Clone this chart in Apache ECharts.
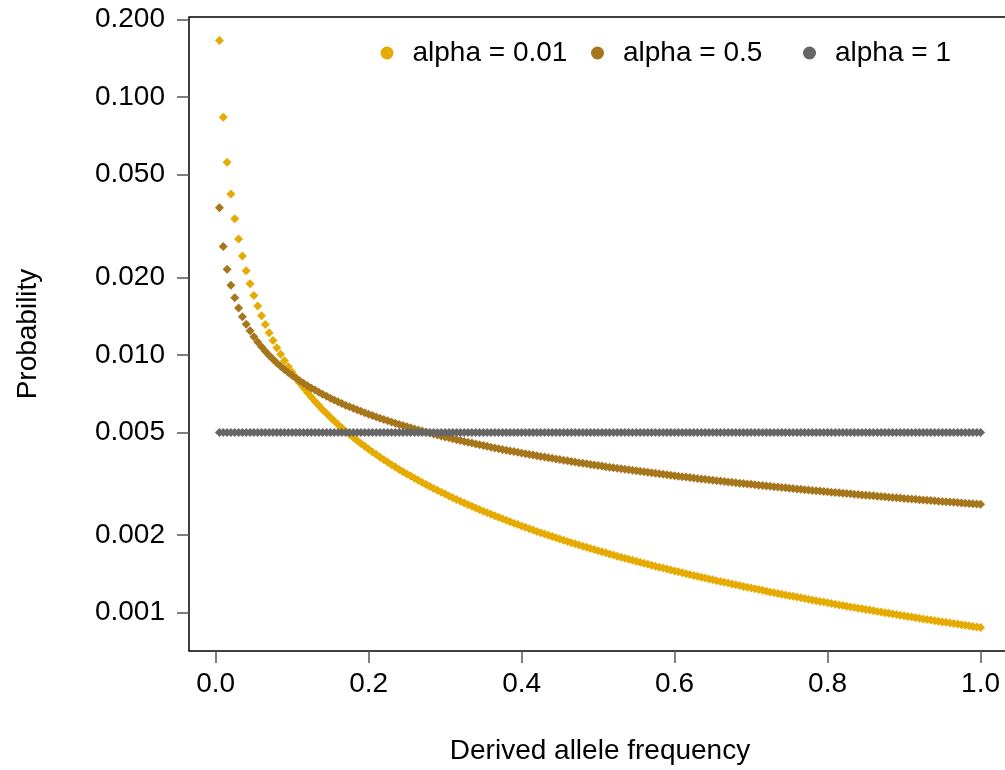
<!DOCTYPE html>
<html>
<head>
<meta charset="utf-8">
<script src="https://cdn.jsdelivr.net/npm/echarts@6/dist/echarts.min.js"></script>
<style>
html,body{margin:0;padding:0;background:#fff;}
#chart{width:1005px;height:770px;}
</style>
</head>
<body>
<div id="chart"></div>
<script>
const freq = [
0.005,0.01,0.015,0.02,0.025,0.03,0.035,0.04,0.045,0.05,0.055,0.06,0.065,0.07,0.075,0.08,0.085,0.09,0.095,0.1,
0.105,0.11,0.115,0.12,0.125,0.13,0.135,0.14,0.145,0.15,0.155,0.16,0.165,0.17,0.175,0.18,0.185,0.19,0.195,0.2,
0.205,0.21,0.215,0.22,0.225,0.23,0.235,0.24,0.245,0.25,0.255,0.26,0.265,0.27,0.275,0.28,0.285,0.29,0.295,0.3,
0.305,0.31,0.315,0.32,0.325,0.33,0.335,0.34,0.345,0.35,0.355,0.36,0.365,0.37,0.375,0.38,0.385,0.39,0.395,0.4,
0.405,0.41,0.415,0.42,0.425,0.43,0.435,0.44,0.445,0.45,0.455,0.46,0.465,0.47,0.475,0.48,0.485,0.49,0.495,0.5,
0.505,0.51,0.515,0.52,0.525,0.53,0.535,0.54,0.545,0.55,0.555,0.56,0.565,0.57,0.575,0.58,0.585,0.59,0.595,0.6,
0.605,0.61,0.615,0.62,0.625,0.63,0.635,0.64,0.645,0.65,0.655,0.66,0.665,0.67,0.675,0.68,0.685,0.69,0.695,0.7,
0.705,0.71,0.715,0.72,0.725,0.73,0.735,0.74,0.745,0.75,0.755,0.76,0.765,0.77,0.775,0.78,0.785,0.79,0.795,0.8,
0.805,0.81,0.815,0.82,0.825,0.83,0.835,0.84,0.845,0.85,0.855,0.86,0.865,0.87,0.875,0.88,0.885,0.89,0.895,0.9,
0.905,0.91,0.915,0.92,0.925,0.93,0.935,0.94,0.945,0.95,0.955,0.96,0.965,0.97,0.975,0.98,0.985,0.99,0.995,1
];
const alpha001 = [
0.1661,0.08363,0.05598,0.04211,0.03376,0.02819,0.02420,0.02120,0.01887,0.01700,
0.01547,0.01419,0.01311,0.01218,0.01138,0.01067,0.01005,0.009499,0.009004,0.008558,
0.008154,0.007787,0.007452,0.007145,0.006862,0.006600,0.006358,0.006133,0.005924,0.005728,
0.005545,0.005374,0.005213,0.005061,0.004918,0.004782,0.004654,0.004533,0.004418,0.004309,
0.004205,0.004106,0.004011,0.003921,0.003834,0.003752,0.003673,0.003597,0.003524,0.003455,
0.003388,0.003323,0.003261,0.003201,0.003144,0.003088,0.003034,0.002983,0.002932,0.002884,
0.002837,0.002792,0.002748,0.002706,0.002664,0.002624,0.002586,0.002548,0.002511,0.002476,
0.002441,0.002408,0.002375,0.002343,0.002312,0.002282,0.002253,0.002224,0.002197,0.002169,
0.002143,0.002117,0.002092,0.002067,0.002043,0.002019,0.001996,0.001974,0.001952,0.001931,
0.001910,0.001889,0.001869,0.001849,0.001830,0.001811,0.001793,0.001775,0.001757,0.001739,
0.001722,0.001706,0.001689,0.001673,0.001657,0.001642,0.001627,0.001612,0.001597,0.001583,
0.001569,0.001555,0.001541,0.001528,0.001515,0.001502,0.001489,0.001476,0.001464,0.001452,
0.001440,0.001429,0.001417,0.001406,0.001395,0.001384,0.001373,0.001362,0.001352,0.001342,
0.001331,0.001321,0.001312,0.001302,0.001292,0.001283,0.001274,0.001264,0.001256,0.001247,
0.001238,0.001229,0.001221,0.001212,0.001204,0.001196,0.001188,0.001180,0.001172,0.001164,
0.001157,0.001149,0.001142,0.001134,0.001127,0.001120,0.001113,0.001106,0.001099,0.001092,
0.001086,0.001079,0.001072,0.001066,0.001059,0.001053,0.001047,0.001041,0.001035,0.001029,
0.001023,0.001017,0.001011,0.001005,0.000999,0.000994,0.000988,0.000983,0.000977,0.000972,
0.000967,0.000961,0.000956,0.000951,0.000946,0.000941,0.000936,0.000931,0.000926,0.000921,
0.000917,0.000912,0.000907,0.000903,0.000898,0.000893,0.000889,0.000884,0.000880,0.000876
];
const alpha05 = [
0.03723,0.02633,0.02150,0.01862,0.01665,0.01520,0.01407,0.01316,0.01241,0.01177,
0.01123,0.01075,0.01033,0.009951,0.009613,0.009308,0.009030,0.008776,0.008541,0.008325,
0.008125,0.007938,0.007763,0.007600,0.007446,0.007302,0.007165,0.007036,0.006914,0.006797,
0.006687,0.006582,0.006481,0.006385,0.006293,0.006205,0.006121,0.006040,0.005962,0.005887,
0.005815,0.005745,0.005678,0.005613,0.005550,0.005489,0.005431,0.005374,0.005319,0.005265,
0.005213,0.005163,0.005114,0.005067,0.005020,0.004975,0.004931,0.004889,0.004847,0.004807,
0.004767,0.004728,0.004691,0.004654,0.004618,0.004583,0.004549,0.004515,0.004482,0.004450,
0.004419,0.004388,0.004358,0.004328,0.004299,0.004271,0.004243,0.004216,0.004189,0.004163,
0.004137,0.004112,0.004087,0.004062,0.004038,0.004015,0.003992,0.003969,0.003947,0.003925,
0.003903,0.003882,0.003861,0.003840,0.003820,0.003800,0.003780,0.003761,0.003742,0.003723,
0.003705,0.003686,0.003669,0.003651,0.003633,0.003616,0.003599,0.003583,0.003566,0.003550,
0.003534,0.003518,0.003502,0.003487,0.003472,0.003457,0.003442,0.003427,0.003413,0.003399,
0.003385,0.003371,0.003357,0.003343,0.003330,0.003317,0.003304,0.003291,0.003278,0.003265,
0.003253,0.003241,0.003228,0.003216,0.003204,0.003193,0.003181,0.003169,0.003158,0.003147,
0.003135,0.003124,0.003113,0.003103,0.003092,0.003081,0.003071,0.003060,0.003050,0.003040,
0.003030,0.003020,0.003010,0.003000,0.002990,0.002981,0.002971,0.002962,0.002953,0.002943,
0.002934,0.002925,0.002916,0.002907,0.002898,0.002890,0.002881,0.002872,0.002864,0.002856,
0.002847,0.002839,0.002831,0.002823,0.002814,0.002806,0.002799,0.002791,0.002783,0.002775,
0.002767,0.002760,0.002752,0.002745,0.002737,0.002730,0.002723,0.002715,0.002708,0.002701,
0.002694,0.002687,0.002680,0.002673,0.002666,0.002659,0.002653,0.002646,0.002639,0.002633
];
const alpha1 = [
0.005,0.005,0.005,0.005,0.005,0.005,0.005,0.005,0.005,0.005,0.005,0.005,0.005,0.005,0.005,0.005,0.005,0.005,0.005,0.005,
0.005,0.005,0.005,0.005,0.005,0.005,0.005,0.005,0.005,0.005,0.005,0.005,0.005,0.005,0.005,0.005,0.005,0.005,0.005,0.005,
0.005,0.005,0.005,0.005,0.005,0.005,0.005,0.005,0.005,0.005,0.005,0.005,0.005,0.005,0.005,0.005,0.005,0.005,0.005,0.005,
0.005,0.005,0.005,0.005,0.005,0.005,0.005,0.005,0.005,0.005,0.005,0.005,0.005,0.005,0.005,0.005,0.005,0.005,0.005,0.005,
0.005,0.005,0.005,0.005,0.005,0.005,0.005,0.005,0.005,0.005,0.005,0.005,0.005,0.005,0.005,0.005,0.005,0.005,0.005,0.005,
0.005,0.005,0.005,0.005,0.005,0.005,0.005,0.005,0.005,0.005,0.005,0.005,0.005,0.005,0.005,0.005,0.005,0.005,0.005,0.005,
0.005,0.005,0.005,0.005,0.005,0.005,0.005,0.005,0.005,0.005,0.005,0.005,0.005,0.005,0.005,0.005,0.005,0.005,0.005,0.005,
0.005,0.005,0.005,0.005,0.005,0.005,0.005,0.005,0.005,0.005,0.005,0.005,0.005,0.005,0.005,0.005,0.005,0.005,0.005,0.005,
0.005,0.005,0.005,0.005,0.005,0.005,0.005,0.005,0.005,0.005,0.005,0.005,0.005,0.005,0.005,0.005,0.005,0.005,0.005,0.005,
0.005,0.005,0.005,0.005,0.005,0.005,0.005,0.005,0.005,0.005,0.005,0.005,0.005,0.005,0.005,0.005,0.005,0.005,0.005,0.005
];
const seriesNames = ['alpha = 0.01', 'alpha = 0.5', 'alpha = 1'];
const seriesValues = [alpha001, alpha05, alpha1];
const colors = ['#E6AB02', '#A6761D', '#666666'];
const xTicks = [0, 0.2, 0.4, 0.6, 0.8, 1];
const yTicks = [0.001, 0.002, 0.005, 0.01, 0.02, 0.05, 0.1, 0.2];
const xLimits = [-0.0348, 1.0398];
const yLimits = [0.00071, 0.2047];

const FONT = '"Liberation Sans", Arial, Helvetica, sans-serif';
const chart = echarts.init(document.getElementById('chart'), null, {renderer: 'canvas'});

const legendLefts = [380.5, 591, 803];
const option = {
  animation: false,
  backgroundColor: '#ffffff',
  textStyle: {fontFamily: FONT},
  color: colors,
  grid: {
    left: 189, top: 17, width: 822, height: 634,
    show: true, borderColor: '#000', borderWidth: 1.5,
    backgroundColor: 'transparent',
    containLabel: false, outerBoundsMode: 'none'
  },
  legend: seriesNames.map((name, k) => ({
    left: legendLefts[k], top: 39, padding: 0,
    icon: 'circle', itemWidth: 13, itemHeight: 13,
    textStyle: {fontSize: 28, color: '#000', fontFamily: FONT, padding: [0, 0, 0, 14]},
    data: [name]
  })),
  xAxis: {
    type: 'value', min: xLimits[0], max: xLimits[1],
    axisLine: {show: false, onZero: false},
    splitLine: {show: false},
    axisTick: {show: true, customValues: xTicks, length: 12, lineStyle: {color: '#555', width: 1.5}},
    axisLabel: {customValues: xTicks, formatter: v => v.toFixed(1), fontSize: 28, color: '#000', margin: 19, fontFamily: FONT},
    name: 'Derived allele frequency', nameLocation: 'middle', nameGap: 86,
    nameTextStyle: {fontSize: 28, color: '#000', fontFamily: FONT}
  },
  yAxis: {
    type: 'log', logBase: 10, min: yLimits[0], max: yLimits[1],
    axisLine: {show: false, onZero: false},
    splitLine: {show: false},
    axisTick: {show: true, customValues: yTicks, length: 12, lineStyle: {color: '#555', width: 1.5}},
    axisLabel: {customValues: yTicks, formatter: v => Number(v).toFixed(3), fontSize: 28, color: '#000', margin: 24, padding: [4, 0, 0, 0], fontFamily: FONT},
    name: 'Probability', nameLocation: 'middle', nameGap: 147, nameRotate: 90,
    nameTextStyle: {fontSize: 28, color: '#000', fontFamily: FONT}
  },
  series: seriesNames.map((name, k) => ({
    name: name,
    type: 'scatter',
    symbol: 'diamond',
    symbolSize: 9,
    clip: true,
    itemStyle: {color: colors[k], opacity: 1},
    emphasis: {disabled: true},
    data: freq.map((x, i) => [x, seriesValues[k][i]])
  }))
};
chart.setOption(option);
</script>
</body>
</html>
